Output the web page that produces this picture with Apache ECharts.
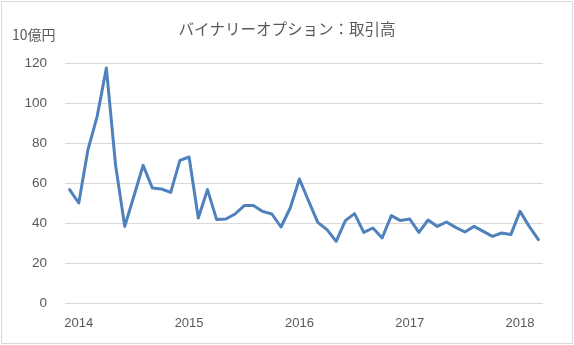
<!DOCTYPE html>
<html>
<head>
<meta charset="utf-8">
<script src="https://cdn.jsdelivr.net/npm/echarts@6/dist/echarts.min.js"></script>
<style>
html,body{margin:0;padding:0;background:#fff;}
#c{width:574px;height:345px;}
</style>
</head>
<body>
<div id="c"></div>
<script>
// Monthly categories from 2013-12 to 2018-03
const months = [];
(function(){
  let y = 2013, m = 12;
  for (let i = 0; i < 52; i++) {
    months.push(y + '-' + (m < 10 ? '0' + m : m));
    m++; if (m > 12) { m = 1; y++; }
  }
})();

const volume = [
  56.7, 50, 76.7, 93.3, 117.5, 69, 38.3, 53.5, 68.8, 57.5, 57, 55.3,
  71.3, 73, 42.5, 56.7, 41.7, 42, 44.5, 48.7, 48.7, 45.8, 44.5, 38,
  47.5, 62, 51, 40.3, 36.7, 30.8, 41.2, 44.7, 35.3, 37.5, 32.5, 43.7,
  41.2, 42, 35.3, 41.5, 38.3, 40.5, 37.8, 35.5, 38.3, 35.8, 33.3, 35,
  34.2, 45.8, 38.3, 31.7
];

const yTicks = { min: 0, max: 120, interval: 20 };
const titleText = 'バイナリーオプション：取引高';
const unitText = '10億円';

const chart = echarts.init(document.getElementById('c'), null, { renderer: 'canvas' });
const font = '"Noto Sans CJK JP", "Liberation Sans", sans-serif';
chart.setOption({
  animation: false,
  backgroundColor: '#ffffff',
  grid: { left: 65, right: 31, top: 63, bottom: 42, containLabel: false },
  graphic: [
    { type: 'rect', shape: { x: 1.5, y: 1.5, width: 571, height: 342 },
      style: { fill: 'none', stroke: '#d9d9d9', lineWidth: 1 }, silent: true },
    { type: 'text', left: 'center', top: 21,
      style: { text: titleText, fill: '#595959', font: '15.5px ' + font } },
    { type: 'text', left: 12, top: 28,
      style: { text: unitText, fill: '#595959', font: '14px ' + font } }
  ],
  xAxis: {
    type: 'category',
    data: months,
    boundaryGap: true,
    axisLine: { show: false },
    axisTick: { show: false },
    axisLabel: {
      interval: function (idx, val) { return val.slice(5) === '01'; },
      formatter: function (val) { return val.slice(0, 4); },
      color: '#595959',
      fontSize: 13,
      fontFamily: '"Liberation Sans", sans-serif',
      margin: 14
    },
    splitLine: { show: false }
  },
  yAxis: {
    type: 'value',
    min: yTicks.min,
    max: yTicks.max,
    interval: yTicks.interval,
    axisLine: { show: false },
    axisTick: { show: false },
    axisLabel: {
      color: '#595959',
      fontSize: 13.5,
      fontFamily: '"Liberation Sans", sans-serif',
      margin: 18
    },
    splitLine: { lineStyle: { color: '#d9d9d9', width: 1 } }
  },
  series: [{
    type: 'line',
    data: volume,
    symbol: 'none',
    lineStyle: { color: '#4f81bd', width: 3, join: 'round', cap: 'round' },
    itemStyle: { color: '#4f81bd' }
  }]
});
</script>
</body>
</html>
